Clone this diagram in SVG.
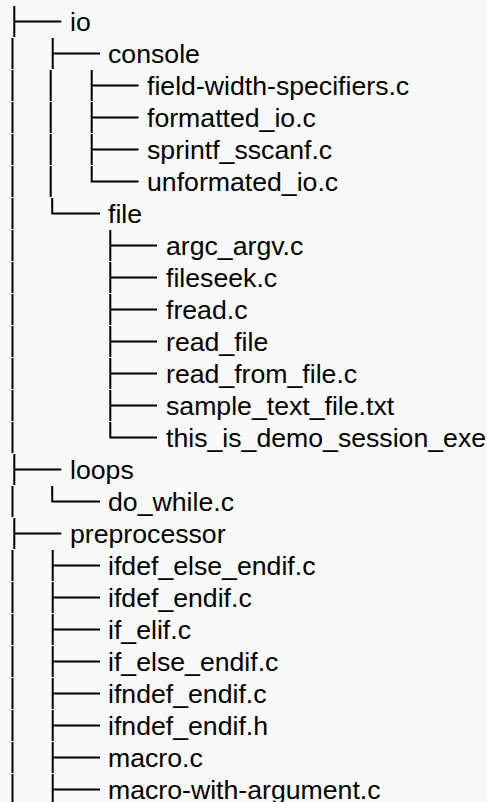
<svg xmlns="http://www.w3.org/2000/svg" width="487" height="802" viewBox="0 0 487 802">
<style>
.bg{fill:#f9f9f9}
.ln{fill:none;stroke:#000;stroke-width:2;stroke-linecap:butt}
text{font-family:"Liberation Sans",Arial,sans-serif;font-size:26.67px;fill:#000}
</style>
<rect class="bg" x="0" y="0" width="487" height="802"/>
<g id="connectors">
<!-- column 0 vertical bars -->
<path class="ln" d="M12.5 38V69M12.5 70V101M12.5 102V133M12.5 134V165M12.5 166V197M12.5 198V229M12.5 230V261M12.5 262V293M12.5 294V325M12.5 326V357M12.5 358V389M12.5 390V421M12.5 422V453M12.5 486V517M12.5 550V581M12.5 582V613M12.5 614V645M12.5 646V677M12.5 678V709M12.5 710V741M12.5 742V773M12.5 774V805"/>
<!-- column 1 vertical bars (console) -->
<path class="ln" d="M50.7 70V101M50.7 102V133M50.7 134V165M50.7 166V197"/>
<!-- level 0 tees -->
<path class="ln" d="M14.3 6V37M13.3 21.5H61.3"/>
<path class="ln" d="M14.3 454V485M13.3 469.5H61.3"/>
<path class="ln" d="M14.3 518V549M13.3 533.5H61.3"/>
<!-- io children -->
<path class="ln" d="M52.7 38V69M51.7 53.5H100"/>
<path class="ln" d="M52.2 198V214.5M51.2 213.5H100"/>
<!-- console children -->
<path class="ln" d="M91.7 70V101M90.7 85.5H138.5"/>
<path class="ln" d="M91.7 102V133M90.7 117.5H138.5"/>
<path class="ln" d="M91.7 134V165M90.7 149.5H138.5"/>
<path class="ln" d="M91.7 166V182.5M90.7 181.5H138.5"/>
<!-- file children -->
<path class="ln" d="M110.3 230V261M109.3 245.5H157"/>
<path class="ln" d="M110.3 262V293M109.3 277.5H157"/>
<path class="ln" d="M110.3 294V325M109.3 309.5H157"/>
<path class="ln" d="M110.3 326V357M109.3 341.5H157"/>
<path class="ln" d="M110.3 358V389M109.3 373.5H157"/>
<path class="ln" d="M110.3 390V421M109.3 405.5H157"/>
<path class="ln" d="M110.3 422V438.5M109.3 437.5H157"/>
<!-- loops child -->
<path class="ln" d="M52.2 486V502.5M51.2 501.5H100"/>
<!-- preprocessor children -->
<path class="ln" d="M52.7 550V581M51.7 565.5H100"/>
<path class="ln" d="M52.7 582V613M51.7 597.5H100"/>
<path class="ln" d="M52.7 614V645M51.7 629.5H100"/>
<path class="ln" d="M52.7 646V677M51.7 661.5H100"/>
<path class="ln" d="M52.7 678V709M51.7 693.5H100"/>
<path class="ln" d="M52.7 710V741M51.7 725.5H100"/>
<path class="ln" d="M52.7 742V773M51.7 757.5H100"/>
<path class="ln" d="M52.7 774V805M51.7 789.5H100"/>
</g>
<g id="io"><text x="70" y="30.5">io</text></g>
<g id="console"><text x="108" y="62.5">console</text></g>
<g id="field-width-specifiers"><text x="147" y="94.5">field-width-specifiers.c</text></g>
<g id="formatted_io"><text x="147" y="126.5">formatted_io.c</text></g>
<g id="sprintf_sscanf"><text x="147" y="158.5">sprintf_sscanf.c</text></g>
<g id="unformated_io"><text x="147" y="190.5">unformated_io.c</text></g>
<g id="file"><text x="108" y="222.5">file</text></g>
<g id="argc_argv"><text x="166" y="254.5">argc_argv.c</text></g>
<g id="fileseek"><text x="166" y="286.5">fileseek.c</text></g>
<g id="fread"><text x="166" y="318.5">fread.c</text></g>
<g id="read_file"><text x="166" y="350.5">read_file</text></g>
<g id="read_from_file"><text x="166" y="382.5">read_from_file.c</text></g>
<g id="sample_text_file"><text x="166" y="414.5">sample_text_file.txt</text></g>
<g id="this_is_demo_session_exe"><text x="166" y="446.5">this_is_demo_session_exe</text></g>
<g id="loops"><text x="70" y="478.5">loops</text></g>
<g id="do_while"><text x="108" y="510.5">do_while.c</text></g>
<g id="preprocessor"><text x="70" y="542.5">preprocessor</text></g>
<g id="ifdef_else_endif"><text x="108" y="574.5">ifdef_else_endif.c</text></g>
<g id="ifdef_endif"><text x="108" y="606.5">ifdef_endif.c</text></g>
<g id="if_elif"><text x="108" y="638.5">if_elif.c</text></g>
<g id="if_else_endif"><text x="108" y="670.5">if_else_endif.c</text></g>
<g id="ifndef_endif_c"><text x="108" y="702.5">ifndef_endif.c</text></g>
<g id="ifndef_endif_h"><text x="108" y="734.5">ifndef_endif.h</text></g>
<g id="macro"><text x="108" y="766.5">macro.c</text></g>
<g id="macro-with-argument"><text x="108" y="798.5">macro-with-argument.c</text></g>
</svg>
